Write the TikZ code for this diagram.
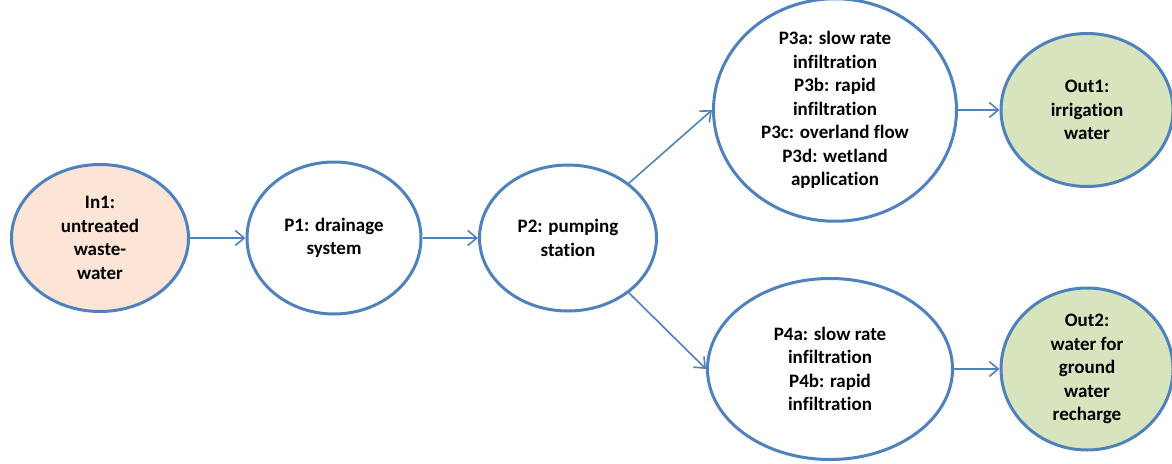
\documentclass[tikz,border=0pt]{standalone}
\usepackage{fontspec}
\setmainfont{Carlito}[Ligatures=NoCommon]
\usetikzlibrary{arrows.meta,shapes.geometric,positioning}
\definecolor{flowblue}{RGB}{79,129,189}
\definecolor{inpeach}{RGB}{252,228,214}
\definecolor{outgreen}{RGB}{215,228,189}

\begin{document}
\begin{tikzpicture}[x=1pt,y=-1pt,>={Straight Barb[length=9pt,width=15pt]},
  node distance=234pt,
  main node/.style={ellipse,draw=flowblue,line width=3pt,inner sep=0pt,align=center,
    font=\fontsize{19}{23.5}\selectfont\bfseries},
  flow/.style={->,draw=flowblue,line width=1.6pt}]
  \useasboundingbox (0,0) rectangle (1172,463);

  \node[main node,fill=inpeach,minimum width=177pt,minimum height=147pt] (in1) at (100,238)
    {In1:\\untreated\\waste-\\water};
  \node[main node,minimum width=174pt,minimum height=152pt] (p1) [right of=in1]
    {P1: drainage\\system};
  \node[main node,minimum width=177pt,minimum height=146pt] (p2) [right of=p1]
    {P2: pumping\\station};
  \node[main node,minimum width=243pt,minimum height=197pt] (p3) at (835,110)
    {P3a: slow rate\\infiltration\\P3b: rapid\\infiltration\\P3c: overland flow\\P3d: wetland\\application};
  \node[main node,minimum width=245pt,minimum height=181pt] (p4) at (830,369)
    {P4a: slow rate\\infiltration\\P4b: rapid\\infiltration};
  \node[main node,fill=outgreen,minimum width=172pt,minimum height=153pt] (out1) at (1087,110)
    {Out1:\\irrigation\\water};
  \node[main node,fill=outgreen,minimum width=172pt,minimum height=162pt] (out2) at (1087,369)
    {Out2:\\water for\\ground\\water\\recharge};

\draw [flow] (in1) -- (p1);
\draw [flow] (p1) -- (p2);
\draw [flow] (p2.42) -- (p3.west);
\draw [flow] (p2.-42) -- (p4.west);
\draw [flow] (p3) -- (out1);
\draw [flow] (p4) -- (out2);
\end{tikzpicture}
\end{document}
